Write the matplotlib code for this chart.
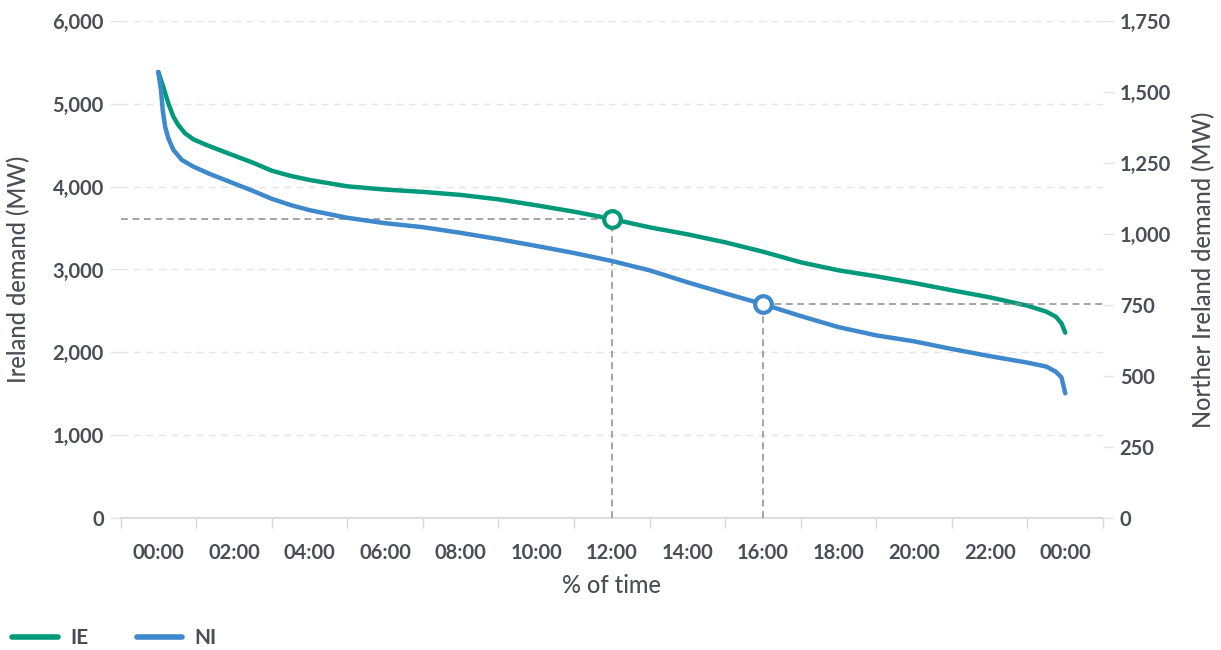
import numpy as np
import matplotlib
matplotlib.use("Agg")
import matplotlib.pyplot as plt
from matplotlib.ticker import FuncFormatter, FixedLocator

# ── Data (hours along the day, demand in MW) ────────────────────────────────
ie_hours = [0, 0.13, 0.265, 0.4, 0.53, 0.71, 0.93, 1.28, 1.81, 2.5, 3, 3.5,
            4, 5, 6, 7, 8, 9, 10, 11, 12, 13, 14, 15, 16, 17, 18, 19, 20,
            21, 22, 23, 23.5, 23.75, 23.9, 24]
ie_demand = [5385, 5206, 5005, 4844, 4744, 4643, 4571, 4502, 4409, 4290, 4193,
             4130, 4081, 4004, 3965, 3937, 3900, 3847, 3775, 3698, 3610, 3509,
             3425, 3328, 3215, 3087, 2990, 2918, 2837, 2749, 2664, 2563, 2491,
             2430, 2350, 2237]

ni_hours = [0, 0.07, 0.116, 0.18, 0.265, 0.4, 0.62, 0.93, 1.37, 1.81, 2.5, 3,
            3.5, 4, 5, 6, 7, 8, 9, 10, 11, 12, 13, 14, 15, 16, 17, 18, 19,
            20, 21, 22, 23, 23.5, 23.75, 23.9, 24]
ni_demand = [1570, 1507, 1437, 1378, 1337, 1296, 1261, 1237, 1211, 1188, 1152,
             1124, 1102, 1084, 1057, 1038, 1024, 1004, 982, 958, 933, 905, 872,
             830, 791, 753, 711, 672, 643, 622, 595, 570, 547, 533, 515, 495, 439]

tick_labels = ["00:00", "02:00", "04:00", "06:00", "08:00", "10:00", "12:00",
               "14:00", "16:00", "18:00", "20:00", "22:00", "00:00"]

ie_mark = (12, 3610)
ni_mark = (16, 753)

GREEN = "#00997A"
BLUE = "#3E88CC"
TEXT = "#4B4D57"
GRID = "#E3E5EA"
DASH = "#8C8C8C"

plt.rcParams.update({
    "font.family": ["Lato", "DejaVu Sans"],
    "text.color": TEXT,
    "axes.labelcolor": TEXT,
    "xtick.color": TEXT,
    "ytick.color": TEXT,
})

fig = plt.figure(figsize=(12.21, 6.5), dpi=100)
ax = fig.add_axes([0.0987, 0.2031, 0.8047, 0.7646])
ax2 = ax.twinx()

x_min, x_max = -1, 25
ax.set_xlim(x_min, x_max)
ax2.set_xlim(x_min, x_max)
ax.set_ylim(0, 6000)
ax2.set_ylim(0, 1750)

for spine in ("top", "right", "left"):
    ax.spines[spine].set_visible(False)
    ax2.spines[spine].set_visible(False)
ax2.spines["bottom"].set_visible(False)
ax.spines["bottom"].set_color("#D5D7DC")
ax.spines["bottom"].set_linewidth(1.2)

# gridlines on left axis
ax.set_yticks(np.arange(0, 6001, 1000))
ax.yaxis.grid(True, color=GRID, linestyle=(0, (5, 4)), linewidth=1.0)
ax.set_axisbelow(True)
ax2.set_yticks(np.arange(0, 1751, 250))

fmt = FuncFormatter(lambda v, _: f"{int(v):,}")
ax.yaxis.set_major_formatter(fmt)
ax2.yaxis.set_major_formatter(fmt)

ax.tick_params(axis="y", length=8, width=1, color=GRID, labelsize=14.5, pad=4)
ax2.tick_params(axis="y", length=8, width=1, color=GRID, labelsize=14.5, pad=4)
for lbl in ax.get_yticklabels() + ax2.get_yticklabels():
    lbl.set_fontweight("bold")

# x axis: labels centred in bands, tick marks on band edges
centres = np.arange(0, 25, 2)
ax.xaxis.set_major_locator(FixedLocator(centres))
ax.set_xticklabels(tick_labels, fontsize=14.5, fontweight="bold")
ax.tick_params(axis="x", which="major", length=0, pad=18)
ax.xaxis.set_minor_locator(FixedLocator(np.arange(-1, 26, 2)))
ax.tick_params(axis="x", which="minor", length=7, width=1, color="#D5D7DC")

label_kw = dict(fontsize=17, fontweight="medium")
ax.set_xlabel("% of time", labelpad=8, **label_kw)
ax.set_ylabel("Ireland demand (MW)", labelpad=16, **label_kw)
ax2.set_ylabel("Norther Ireland demand (MW)", labelpad=15, **label_kw)

# series
ax.plot(ie_hours, ie_demand, color=GREEN, linewidth=3.2,
        solid_capstyle="round", solid_joinstyle="round", zorder=4)
ax2.plot(ni_hours, ni_demand, color=BLUE, linewidth=3.2,
         solid_capstyle="round", solid_joinstyle="round", zorder=4)

# reference lines
dash = (0, (4.5, 3))
ax.plot([x_min, ie_mark[0]], [ie_mark[1], ie_mark[1]], color=DASH,
        linewidth=1.1, linestyle=dash, zorder=3)
ax.plot([ie_mark[0], ie_mark[0]], [0, ie_mark[1]], color=DASH,
        linewidth=1.1, linestyle=dash, zorder=3)
ax2.plot([ni_mark[0], x_max], [ni_mark[1], ni_mark[1]], color=DASH,
         linewidth=1.1, linestyle=dash, zorder=3)
ax2.plot([ni_mark[0], ni_mark[0]], [0, ni_mark[1]], color=DASH,
         linewidth=1.1, linestyle=dash, zorder=3)

ax.plot(*ie_mark, "o", markersize=12, markerfacecolor="white",
        markeredgecolor=GREEN, markeredgewidth=3, zorder=6)
ax2.plot(*ni_mark, "o", markersize=12, markerfacecolor="white",
         markeredgecolor=BLUE, markeredgewidth=3, zorder=6)

# legend
handles = [plt.Line2D([], [], color=GREEN, linewidth=4, solid_capstyle="round"),
           plt.Line2D([], [], color=BLUE, linewidth=4, solid_capstyle="round")]
leg = fig.legend(handles, ["IE", "NI"], loc="lower left",
                 bbox_to_anchor=(-0.002, -0.02), ncol=2, frameon=False,
                 fontsize=15, handlelength=2.2, handletextpad=0.6,
                 columnspacing=2.3, borderaxespad=0.3)
for t in leg.get_texts():
    t.set_fontweight("bold")

fig.savefig("out.png", dpi=100)
